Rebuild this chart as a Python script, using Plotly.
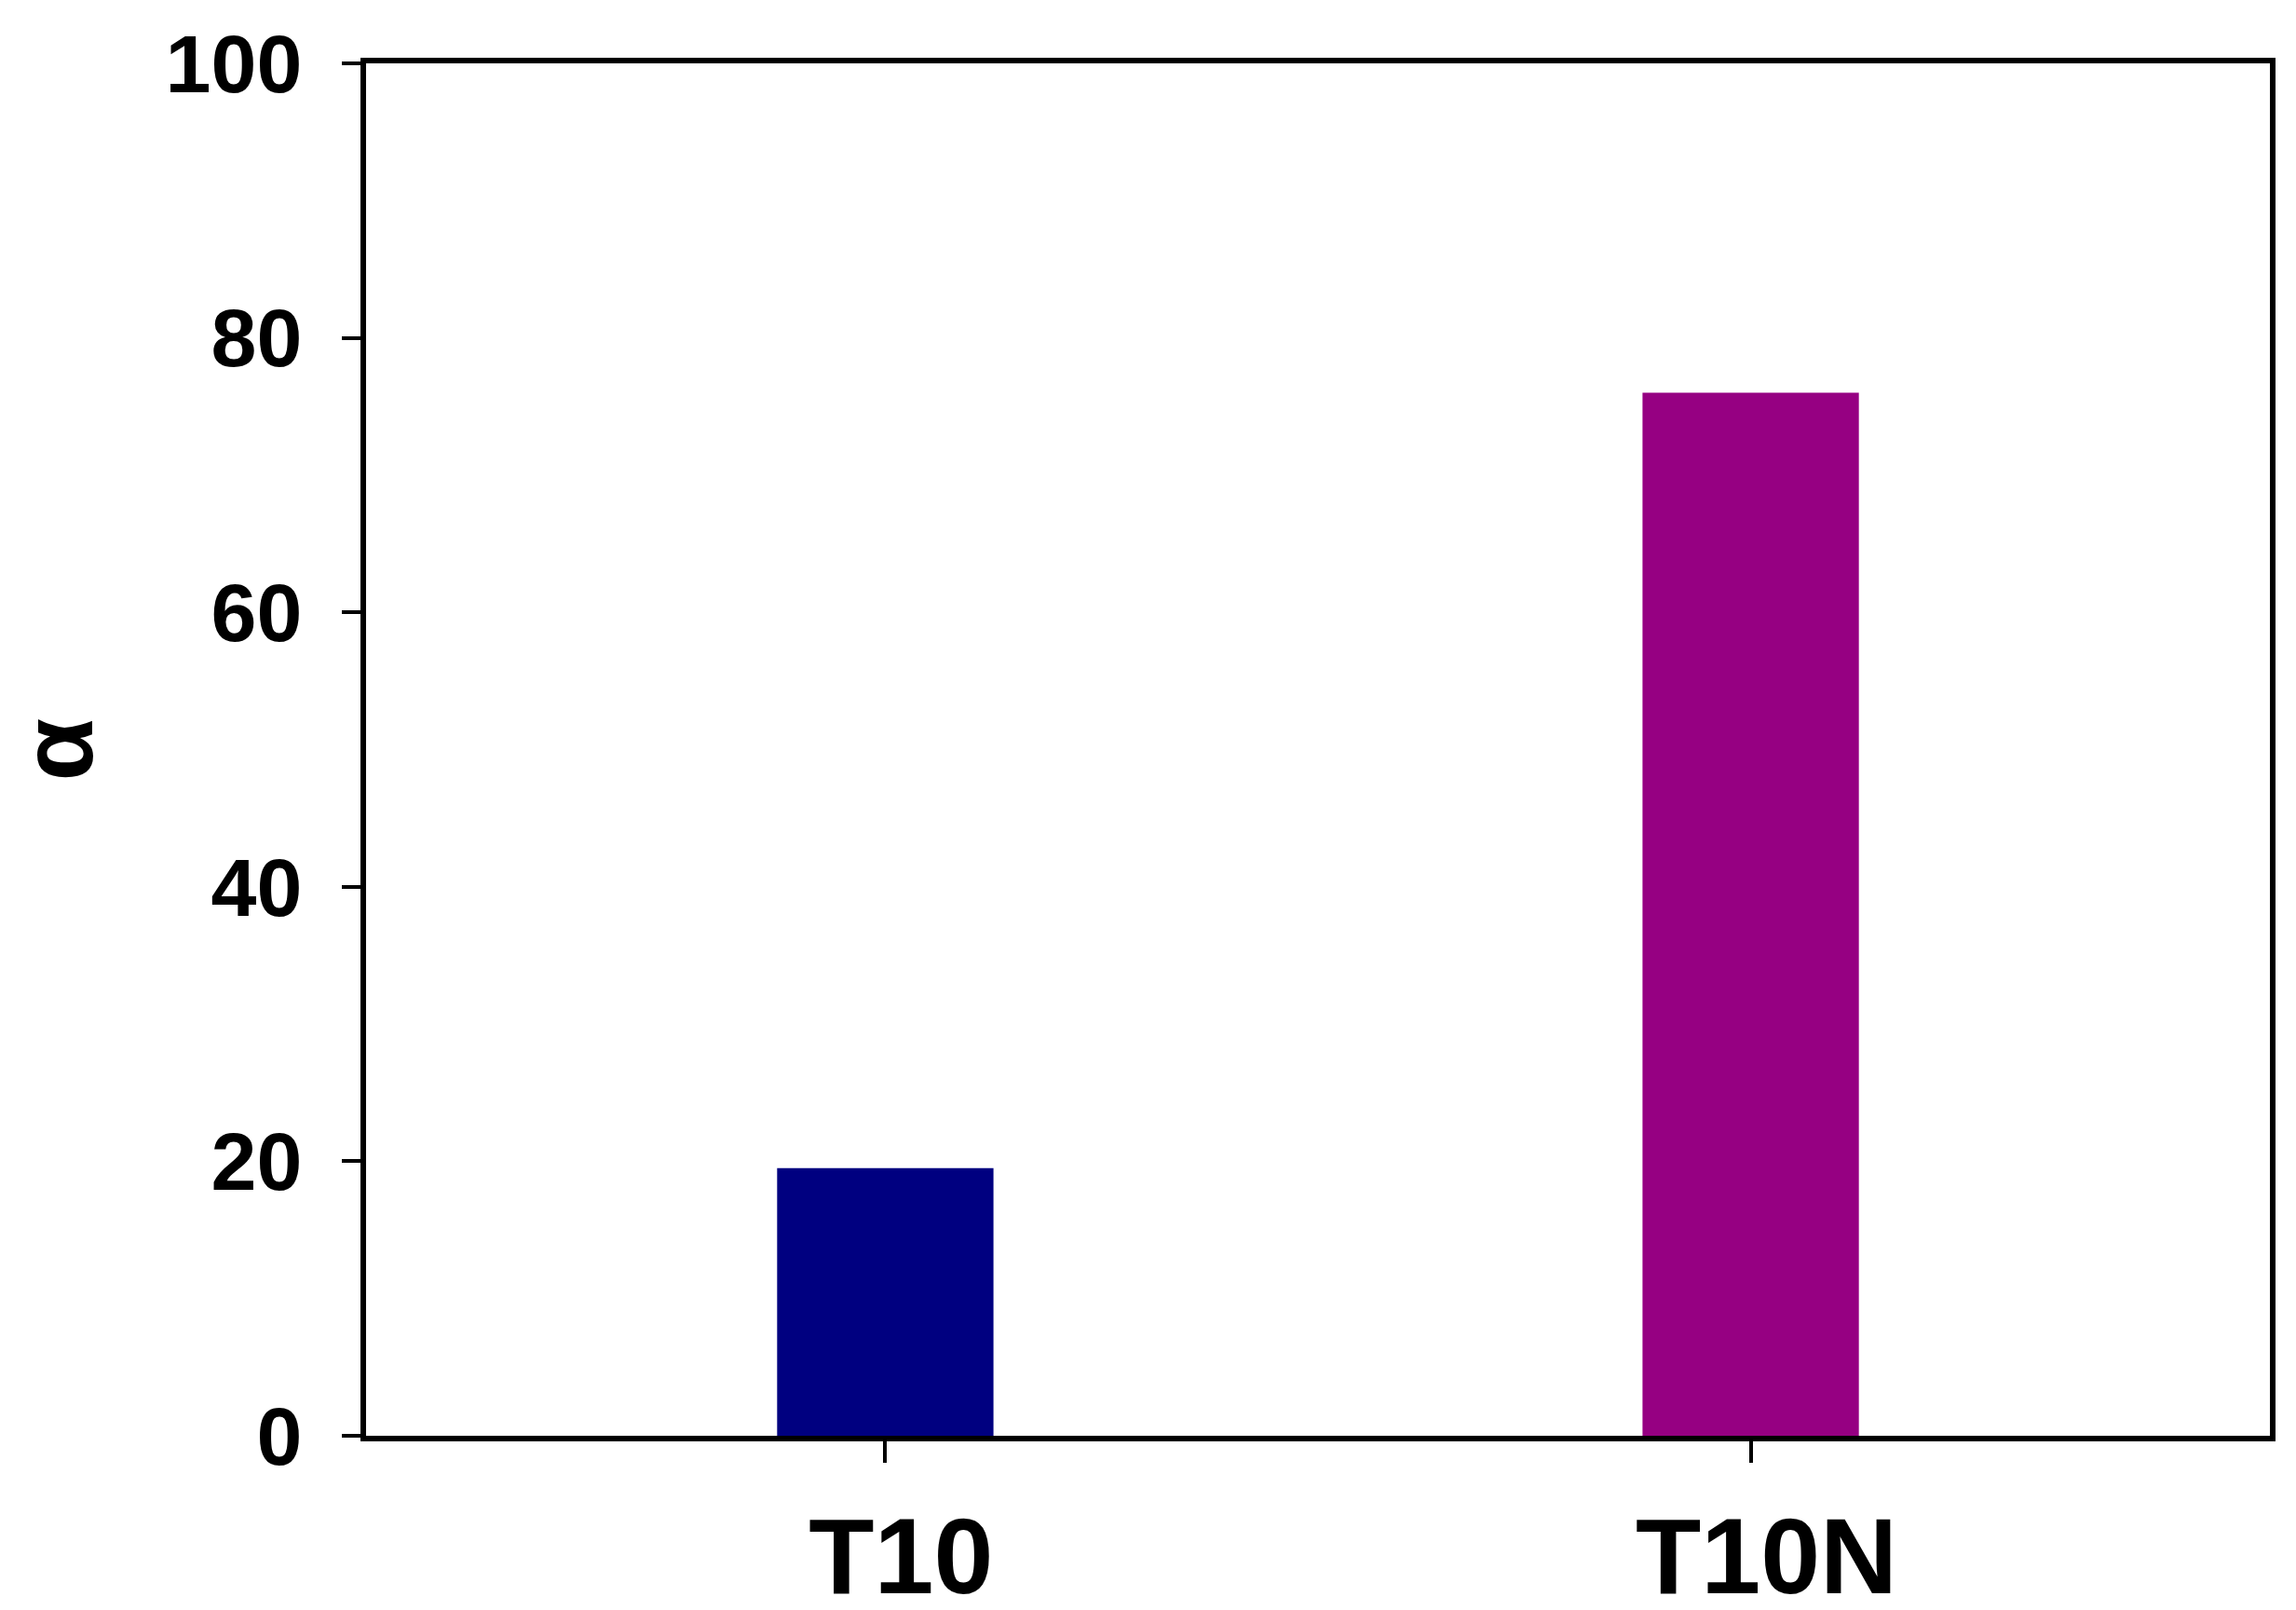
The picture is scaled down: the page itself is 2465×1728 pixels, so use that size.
import plotly.graph_objects as go

# 데이터
samples = ['T10', 'T10N']
alpha_values = [19.5, 76.0]
bar_colors = ['#000080', '#960082']
y_ticks = [0, 20, 40, 60, 80, 100]

fig = go.Figure()

fig.add_trace(go.Bar(
    x=samples,
    y=alpha_values,
    width=0.25,
    marker=dict(color=bar_colors, line=dict(width=0)),
    showlegend=False
))

# 페이지 기본 여백(8px) 만큼 줄여서 창 안에 맞춤
fig.update_layout(
    width=2457,
    height=1720,
    margin=dict(l=385, r=28, t=60, b=187),
    plot_bgcolor='white',
    paper_bgcolor='white',
    font=dict(family='Liberation Sans, Arial, sans-serif', color='black', weight='bold'),
    xaxis=dict(
        range=[-0.6, 1.6],
        automargin=False,
        showline=True, linecolor='black', linewidth=6, mirror=True,
        ticks='outside', ticklen=23, tickwidth=4, tickcolor='black',
        tickfont=dict(size=115, weight='bold'),
        ticklabelstandoff=2,
        ticklabelshift=17,
        showgrid=False, zeroline=False
    ),
    yaxis=dict(
        range=[0, 100],
        tickvals=y_ticks,
        automargin=False,
        showline=True, linecolor='black', linewidth=6, mirror=True,
        ticks='outside', ticklen=20, tickwidth=4, tickcolor='black',
        tickfont=dict(size=88, weight='bold'),
        ticklabelstandoff=25,
        showgrid=False, zeroline=False
    )
)

# y축 제목 (α) - 축 제목은 여백 때문에 밀려서 주석으로 배치
fig.add_annotation(
    text='α',
    xref='paper', yref='paper',
    x=0, y=0.5,
    xanchor='center', yanchor='middle',
    xshift=-333,
    textangle=-90,
    showarrow=False,
    font=dict(size=110, weight='bold')
)

fig.write_html("out.html")
